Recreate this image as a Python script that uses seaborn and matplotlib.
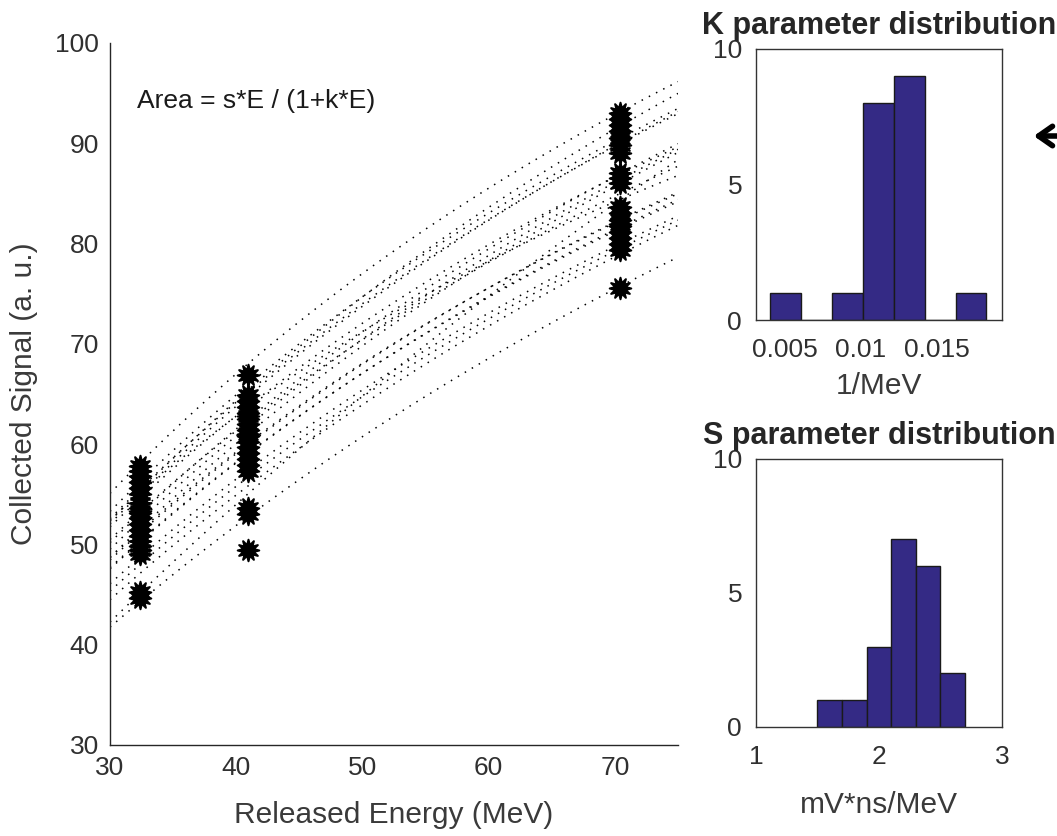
import numpy as np
import pandas as pd
import matplotlib
matplotlib.use("Agg")
import matplotlib.pyplot as plt
import seaborn as sns

# ---------------- data ----------------
# fit parameters per detector (Area = s*E / (1+k*E))
s_values = [1.62, 1.78, 1.95, 2.02, 2.08, 2.15, 2.18, 2.20, 2.22, 2.25,
            2.27, 2.28, 2.33, 2.36, 2.38, 2.42, 2.45, 2.48, 2.58, 2.65]
k_values = [0.0050, 0.0093, 0.0105, 0.0112, 0.0118, 0.0108, 0.0125, 0.0128, 0.0115, 0.0131,
            0.0119, 0.0135, 0.0112, 0.0120, 0.0138, 0.0127, 0.0140, 0.0132, 0.0135, 0.0172]

# measured points (released energy, collected signal)
energy_levels = [32.4, 40.9, 70.4]
signal_e1 = [57.8, 57.3, 56.8, 56.2, 55.6, 55.0, 54.1, 53.6, 53.1, 52.6,
             52.0, 51.4, 50.8, 50.3, 49.8, 49.4, 49.0, 45.3, 44.7, 53.3]
signal_e2 = [66.9, 64.9, 64.3, 63.7, 63.1, 62.5, 62.0, 61.4, 60.8, 60.2,
             59.7, 59.1, 58.5, 57.9, 57.3, 53.6, 53.0, 49.4, 61.0, 62.8]
signal_e3 = [93.0, 92.4, 91.8, 91.2, 90.5, 89.8, 89.0, 87.0, 86.0, 83.6,
             83.0, 82.4, 81.8, 81.2, 80.6, 80.0, 79.4, 75.6, 86.5, 82.0]

energy_range = (30, 75)
k_binrange = (0.00401, 0.01827)
k_nbins = 7
s_binrange = (1.5, 2.7)
s_nbins = 6

# ---------------- build tables ----------------
E_grid = np.linspace(energy_range[0], energy_range[1], 200)
rows = []
for d, (s, k) in enumerate(zip(s_values, k_values)):
    for e in E_grid:
        rows.append((d, e, s * e / (1 + k * e)))
fits = pd.DataFrame(rows, columns=["det", "E", "signal"])

pts = pd.DataFrame({
    "E": [energy_levels[0]] * len(signal_e1) + [energy_levels[1]] * len(signal_e2)
         + [energy_levels[2]] * len(signal_e3),
    "signal": signal_e1 + signal_e2 + signal_e3,
})

# ---------------- figure ----------------
sns.set_style("white")
plt.rcParams["font.family"] = ["Liberation Sans", "DejaVu Sans"]
W, H = 1057, 836
fig = plt.figure(figsize=(W / 100, H / 100), dpi=100)

def px_axes(l, t, r, b):
    return fig.add_axes([l / W, (H - b) / H, (r - l) / W, (b - t) / H])

ax = px_axes(110, 43, 678, 745)
axk = px_axes(756, 49, 1002, 320)
axs = px_axes(756, 459, 1002, 727)

tick_col = "#303030"
label_col = "#3a3a3a"
TICK_FS = 19
LABEL_FS = 21.5
TITLE_FS = 22

# main plot
sns.lineplot(data=fits, x="E", y="signal", units="det", estimator=None,
             color="black", linewidth=1.1, linestyle=(0, (1, 4.3)), ax=ax, legend=False)
sns.scatterplot(data=pts, x="E", y="signal", marker=(12, 1, 0), s=240,
                color="black", edgecolor="black", linewidth=1.5, ax=ax, legend=False, zorder=3)
ax.set_xlim(*energy_range)
ax.set_ylim(30, 100)
ax.set_xticks([30, 40, 50, 60, 70])
ax.set_yticks(range(30, 101, 10))
ax.set_xlabel("Released Energy (MeV)", fontsize=LABEL_FS, color=label_col, labelpad=15)
ax.set_ylabel("Collected Signal (a. u.)", fontsize=LABEL_FS, color=label_col, labelpad=12)
for sp in ["top", "right"]:
    ax.spines[sp].set_visible(False)
for sp in ["left", "bottom"]:
    ax.spines[sp].set_color("#262626")
    ax.spines[sp].set_linewidth(1.0)
ax.tick_params(direction="in", length=5, width=0.8, labelsize=TICK_FS, colors=tick_col, pad=8)
ax.text(0.047, 0.917, "Area = s*E / (1+k*E)", transform=ax.transAxes,
        fontsize=19, color="#1a1a1a", va="center")

bar_col = "#342a85"

# K histogram
sns.histplot(x=k_values, bins=k_nbins, binrange=k_binrange, ax=axk, color=bar_col,
             edgecolor="#1a1a1a", linewidth=1.0, alpha=1.0)
axk.set_xlim(0.00307, 0.0193)
axk.set_ylim(0, 10)
axk.set_xticks([0.005, 0.01, 0.015])
axk.set_xticklabels(["0.005", "0.01", "0.015"])
axk.set_yticks([0, 5, 10])
axk.set_ylabel("")
axk.set_xlabel("1/MeV", fontsize=LABEL_FS, color=label_col, labelpad=7)
axk.set_title("K parameter distribution", fontsize=TITLE_FS, fontweight="bold", pad=11)

# S histogram
sns.histplot(x=s_values, bins=s_nbins, binrange=s_binrange, ax=axs, color=bar_col,
             edgecolor="#1a1a1a", linewidth=1.0, alpha=1.0)
axs.set_xlim(1, 3)
axs.set_ylim(0, 10)
axs.set_xticks([1, 2, 3])
axs.set_yticks([0, 5, 10])
axs.set_ylabel("")
axs.set_xlabel("mV*ns/MeV", fontsize=LABEL_FS, color=label_col, labelpad=16)
axs.set_title("S parameter distribution", fontsize=TITLE_FS, fontweight="bold", pad=11)

for a in (axk, axs):
    for sp in a.spines.values():
        sp.set_visible(True)
        sp.set_color("#333333")
        sp.set_linewidth(1.0)
    a.tick_params(direction="in", length=2, width=0.8, labelsize=TICK_FS, colors=tick_col)
    a.tick_params(axis="x", pad=13)
    a.tick_params(axis="y", pad=10)

# arrow at the right edge
fig.add_artist(matplotlib.patches.FancyArrowPatch(
    posA=(1080 / W, (H - 136) / H), posB=(1031 / W, (H - 136) / H),
    transform=fig.transFigure, arrowstyle="->,head_length=10,head_width=7",
    linewidth=4, color="black"))

fig.savefig("out.png", dpi=100)
